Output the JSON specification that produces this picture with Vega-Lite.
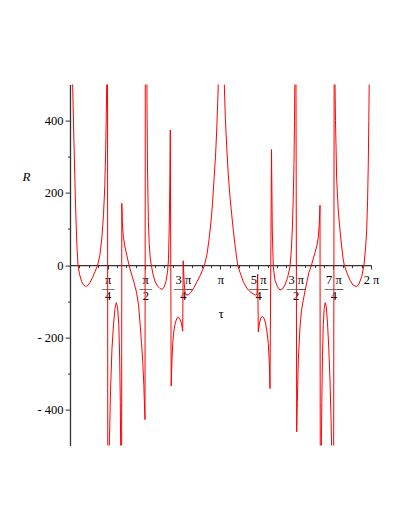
{
  "$schema": "https://vega.github.io/schema/vega-lite/v6.json",
  "width": 301,
  "height": 361,
  "autosize": {"type": "none"},
  "padding": {"left": 70, "top": 84.6, "right": 38, "bottom": 83.4},
  "background": "white",
  "config": {"view": {"stroke": null}},
  "data": {"values": [
    {"tau": 0.0167, "R": 1500}, {"tau": 0.0376, "R": 600}, {"tau": 0.0584, "R": 480}, {"tau": 0.0751, "R": 380},
    {"tau": 0.0939, "R": 280}, {"tau": 0.1106, "R": 190}, {"tau": 0.1294, "R": 110}, {"tau": 0.1461, "R": 50},
    {"tau": 0.1670, "R": 0}, {"tau": 0.1983, "R": -25}, {"tau": 0.2401, "R": -45}, {"tau": 0.2818, "R": -55},
    {"tau": 0.3235, "R": -59}, {"tau": 0.3653, "R": -57}, {"tau": 0.4175, "R": -48}, {"tau": 0.4697, "R": -35},
    {"tau": 0.5219, "R": -18}, {"tau": 0.5782, "R": 0}, {"tau": 0.6262, "R": 30}, {"tau": 0.6680, "R": 80},
    {"tau": 0.6993, "R": 140}, {"tau": 0.7264, "R": 220}, {"tau": 0.7452, "R": 320}, {"tau": 0.7577, "R": 420},
    {"tau": 0.7682, "R": 520}, {"tau": 0.7786, "R": 1500}, {"tau": 0.7932, "R": -1500}, {"tau": 0.8099, "R": -600},
    {"tau": 0.8245, "R": -480}, {"tau": 0.8454, "R": -350}, {"tau": 0.8767, "R": -230}, {"tau": 0.9080, "R": -165},
    {"tau": 0.9393, "R": -120}, {"tau": 0.9665, "R": -104}, {"tau": 0.9915, "R": -115}, {"tau": 1.0187, "R": -165},
    {"tau": 1.0374, "R": -260}, {"tau": 1.0500, "R": -380}, {"tau": 1.0583, "R": -520}, {"tau": 1.0646, "R": -1500},
    {"tau": 1.0729, "R": -1500}, {"tau": 1.0813, "R": 171}, {"tau": 1.0917, "R": 120}, {"tau": 1.1126, "R": 78},
    {"tau": 1.1481, "R": 50}, {"tau": 1.1898, "R": 25}, {"tau": 1.2316, "R": 0}, {"tau": 1.2838, "R": -25},
    {"tau": 1.3359, "R": -48}, {"tau": 1.3881, "R": -75}, {"tau": 1.4299, "R": -110}, {"tau": 1.4612, "R": -160},
    {"tau": 1.4925, "R": -215}, {"tau": 1.5196, "R": -270}, {"tau": 1.5405, "R": -330}, {"tau": 1.5551, "R": -390},
    {"tau": 1.5656, "R": -428}, {"tau": 1.5781, "R": 1500}, {"tau": 1.5969, "R": 1500}, {"tau": 1.6073, "R": 450},
    {"tau": 1.6157, "R": 300}, {"tau": 1.6261, "R": 200}, {"tau": 1.6365, "R": 120}, {"tau": 1.6532, "R": 60},
    {"tau": 1.6741, "R": 20}, {"tau": 1.6971, "R": 0}, {"tau": 1.7325, "R": -25}, {"tau": 1.7743, "R": -45},
    {"tau": 1.8265, "R": -58}, {"tau": 1.8787, "R": -65}, {"tau": 1.9204, "R": -67}, {"tau": 1.9622, "R": -62},
    {"tau": 2.0039, "R": -45}, {"tau": 2.0352, "R": -20}, {"tau": 2.0561, "R": 15}, {"tau": 2.0707, "R": 100},
    {"tau": 2.0832, "R": 220}, {"tau": 2.0937, "R": 374}, {"tau": 2.1125, "R": -335}, {"tau": 2.1291, "R": -260},
    {"tau": 2.1458, "R": -215}, {"tau": 2.1709, "R": -180}, {"tau": 2.2022, "R": -158}, {"tau": 2.2335, "R": -147},
    {"tau": 2.2648, "R": -144}, {"tau": 2.2961, "R": -150}, {"tau": 2.3233, "R": -160}, {"tau": 2.3442, "R": -175},
    {"tau": 2.3525, "R": -183}, {"tau": 2.3629, "R": 12}, {"tau": 2.3838, "R": -50}, {"tau": 2.4005, "R": -75},
    {"tau": 2.4318, "R": -83}, {"tau": 2.4736, "R": -82}, {"tau": 2.5258, "R": -75}, {"tau": 2.5884, "R": -62},
    {"tau": 2.6510, "R": -46}, {"tau": 2.7136, "R": -30}, {"tau": 2.7658, "R": -14}, {"tau": 2.8076, "R": 0},
    {"tau": 2.8597, "R": 30}, {"tau": 2.9015, "R": 70}, {"tau": 2.9432, "R": 120}, {"tau": 2.9746, "R": 170},
    {"tau": 3.0059, "R": 236}, {"tau": 3.0372, "R": 300}, {"tau": 3.0622, "R": 374}, {"tau": 3.0831, "R": 450},
    {"tau": 3.0998, "R": 520}, {"tau": 3.1269, "R": 1500}, {"tau": 3.1833, "R": 1500}, {"tau": 3.2209, "R": 500},
    {"tau": 3.2418, "R": 410}, {"tau": 3.2710, "R": 328}, {"tau": 3.3043, "R": 250}, {"tau": 3.3398, "R": 189},
    {"tau": 3.3753, "R": 140}, {"tau": 3.4087, "R": 97}, {"tau": 3.4546, "R": 45}, {"tau": 3.5006, "R": 0},
    {"tau": 3.5486, "R": -20}, {"tau": 3.6175, "R": -46}, {"tau": 3.6738, "R": -60}, {"tau": 3.7218, "R": -69},
    {"tau": 3.7782, "R": -76}, {"tau": 3.8262, "R": -80}, {"tau": 3.8721, "R": -83}, {"tau": 3.9034, "R": -80},
    {"tau": 3.9180, "R": -25}, {"tau": 3.9306, "R": -185}, {"tau": 3.9556, "R": -160}, {"tau": 3.9869, "R": -145},
    {"tau": 4.0183, "R": -142}, {"tau": 4.0496, "R": -147}, {"tau": 4.0809, "R": -160}, {"tau": 4.1122, "R": -185},
    {"tau": 4.1393, "R": -217}, {"tau": 4.1602, "R": -270}, {"tau": 4.1748, "R": -342}, {"tau": 4.2061, "R": 320},
    {"tau": 4.2228, "R": 97}, {"tau": 4.2437, "R": -5}, {"tau": 4.2792, "R": -42}, {"tau": 4.3314, "R": -60},
    {"tau": 4.3836, "R": -69}, {"tau": 4.4358, "R": -66}, {"tau": 4.4880, "R": -55}, {"tau": 4.5402, "R": -35},
    {"tau": 4.5923, "R": -5}, {"tau": 4.6194, "R": 40}, {"tau": 4.6403, "R": 97}, {"tau": 4.6591, "R": 180},
    {"tau": 4.6758, "R": 282}, {"tau": 4.6863, "R": 400}, {"tau": 4.6925, "R": 500}, {"tau": 4.7030, "R": 1500},
    {"tau": 4.7134, "R": 1500}, {"tau": 4.7175, "R": 500}, {"tau": 4.7322, "R": -462}, {"tau": 4.7447, "R": -380},
    {"tau": 4.7656, "R": -263}, {"tau": 4.8010, "R": -171}, {"tau": 4.8323, "R": -125}, {"tau": 4.8699, "R": -97},
    {"tau": 4.9054, "R": -72}, {"tau": 4.9471, "R": -45}, {"tau": 4.9889, "R": -20}, {"tau": 5.0411, "R": 0},
    {"tau": 5.0828, "R": 20}, {"tau": 5.1142, "R": 35}, {"tau": 5.1559, "R": 55}, {"tau": 5.1831, "R": 78},
    {"tau": 5.2018, "R": 110}, {"tau": 5.2186, "R": 166}, {"tau": 5.2311, "R": -1500}, {"tau": 5.2394, "R": -1500},
    {"tau": 5.2457, "R": -520}, {"tau": 5.2561, "R": -380}, {"tau": 5.2707, "R": -250}, {"tau": 5.2874, "R": -165},
    {"tau": 5.3062, "R": -120}, {"tau": 5.3271, "R": -104}, {"tau": 5.3500, "R": -115}, {"tau": 5.3751, "R": -160},
    {"tau": 5.4022, "R": -230}, {"tau": 5.4273, "R": -320}, {"tau": 5.4482, "R": -420}, {"tau": 5.4648, "R": -520},
    {"tau": 5.4940, "R": -1500}, {"tau": 5.5233, "R": 1500}, {"tau": 5.5317, "R": 500}, {"tau": 5.5421, "R": 400},
    {"tau": 5.5671, "R": 236}, {"tau": 5.6005, "R": 150}, {"tau": 5.6360, "R": 97}, {"tau": 5.6715, "R": 50},
    {"tau": 5.7049, "R": 14}, {"tau": 5.7257, "R": 0}, {"tau": 5.7821, "R": -22}, {"tau": 5.8447, "R": -42},
    {"tau": 5.9073, "R": -55}, {"tau": 5.9846, "R": -60}, {"tau": 6.0326, "R": -52}, {"tau": 6.0889, "R": -32},
    {"tau": 6.1370, "R": 0}, {"tau": 6.1683, "R": 45}, {"tau": 6.1933, "R": 97}, {"tau": 6.2121, "R": 180},
    {"tau": 6.2267, "R": 282}, {"tau": 6.2372, "R": 400}, {"tau": 6.2455, "R": 500}, {"tau": 6.2580, "R": 1500}
  ]},
  "mark": {"type": "line", "color": "#ff0000", "strokeWidth": 1, "clip": true, "strokeJoin": "round"},
  "encoding": {
    "x": {
      "field": "tau", "type": "quantitative",
      "scale": {"domain": [0, 6.28319], "nice": false, "zero": false},
      "axis": {
        "orient": "bottom", "offset": -180.5, "grid": false,
        "values": [0.19635, 0.39270, 0.58905, 0.78540, 0.98175, 1.17810, 1.37445, 1.57080, 1.76715, 1.96350, 2.15984, 2.35619, 2.55254, 2.74889, 2.94524, 3.14159, 3.33794, 3.53429, 3.73064, 3.92699, 4.12334, 4.31969, 4.51604, 4.71239, 4.90874, 5.10509, 5.30144, 5.49779, 5.69414, 5.89049, 6.08684, 6.28319],
        "domainColor": "#333333", "domainWidth": 1.3,
        "tickColor": "#333333", "tickWidth": 1,
        "tickSize": {"condition": {"test": "round(datum.value/(PI/16)) % 4 == 0", "value": 4}, "value": 2.5},
        "labelExpr": "round(datum.value/(PI/16)) % 4 != 0 ? '' : ['', ['π','—','4'], ['π','—','2'], ['3 π','—–','4'], 'π', ['5 π','—–','4'], ['3 π','—–','2'], ['7 π','—–','4'], '2 π'][round(datum.value/(PI/4))]",
        "labelFont": "Liberation Serif", "labelFontSize": 12.5, "labelColor": "black",
        "labelBaseline": "top", "labelLineHeight": 8.2, "labelPadding": 4.5,
        "labelOverlap": false, "labelFlush": false, "labelBound": false,
        "title": "τ", "titleFont": "Liberation Serif", "titleFontSize": 13, "titleFontWeight": "normal",
        "titleColor": "black", "titleX": 150.5, "titleY": 48, "titleAlign": "center", "titleBaseline": "middle"
      }
    },
    "y": {
      "field": "R", "type": "quantitative",
      "scale": {"domain": [-500, 500], "nice": false, "zero": false},
      "axis": {
        "grid": false,
        "values": [-400, -300, -200, -100, 0, 100, 200, 300, 400],
        "domainColor": "#333333", "domainWidth": 1.3,
        "tickColor": "#333333", "tickWidth": 1,
        "tickSize": {"condition": {"test": "datum.value % 200 == 0", "value": 5}, "value": 2.5},
        "labelExpr": "datum.value % 200 == 0 ? (datum.value < 0 ? '- ' + abs(datum.value) : '' + datum.value) : ''",
        "labelFont": "Liberation Serif", "labelFontSize": 12.5, "labelColor": "black",
        "labelPadding": 2, "labelOverlap": false, "labelFlush": false,
        "title": "R", "titleFont": "Liberation Serif", "titleFontSize": 13, "titleFontStyle": "italic",
        "titleFontWeight": "normal", "titleColor": "black", "titleAngle": 0,
        "titleX": -44, "titleY": 92, "titleAlign": "center", "titleBaseline": "middle"
      }
    }
  }
}
